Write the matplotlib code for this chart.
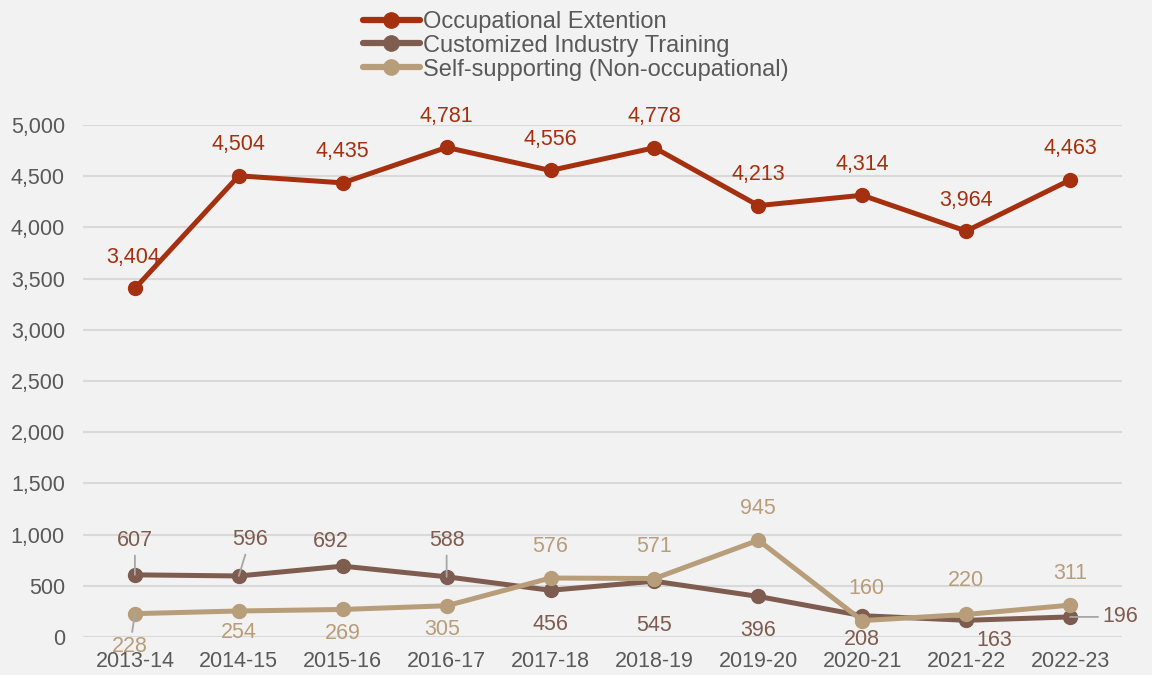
import matplotlib
matplotlib.use("Agg")
import matplotlib.pyplot as plt
from matplotlib.ticker import FuncFormatter

plt.rcParams['font.family'] = ['Liberation Sans', 'DejaVu Sans']

years = ["2013-14", "2014-15", "2015-16", "2016-17", "2017-18",
         "2018-19", "2019-20", "2020-21", "2021-22", "2022-23"]
occupational = [3404, 4504, 4435, 4781, 4556, 4778, 4213, 4314, 3964, 4463]
customized = [607, 596, 692, 588, 456, 545, 396, 208, 163, 196]
self_supporting = [228, 254, 269, 305, 576, 571, 945, 160, 220, 311]

names = ["Occupational Extention", "Customized Industry Training",
         "Self-supporting (Non-occupational)"]
colors = ["#A5300F", "#7E5C50", "#B89D7A"]

# label offsets in pixels (dx, dy) and whether a leader line is drawn
off_occ = [(-2, 31)] + [(0, 31)] * 9
off_cus = [(0, 34), (11, 36), (-12, 25), (0, 36), (0, -34), (0, -44),
           (0, -34), (0, -24), (28, -20), (50, 0)]
lead_cus = [True, True, False, True, False, False, False, False, False, True]
off_self = [(-5, -33), (0, -22), (0, -24), (-4, -24), (0, 32), (0, 32),
            (0, 32), (4, 32), (0, 34), (0, 32)]
lead_self = [True] + [False] * 9

bg = "#F2F2F2"
fig = plt.figure(figsize=(11.52, 6.75), dpi=100, facecolor=bg)
ax = fig.add_axes([0.072, 0.0563, 0.902, 0.7585], facecolor=bg)

x = list(range(len(years)))
series = [occupational, customized, self_supporting]
for vals, c, n in zip(series, colors, names):
    ax.plot(x, vals, color=c, lw=3.6, marker='o', ms=10, label=n,
            solid_capstyle='round', zorder=3)

def label(vals, offs, leads, c):
    for i, v in enumerate(vals):
        dx, dy = offs[i]
        lead = leads[i] if leads else False
        kw = {}
        if lead:
            kw['arrowprops'] = dict(arrowstyle='-', color='#A6A6A6', lw=1.3,
                                    shrinkA=1, shrinkB=0)
        ax.annotate(f"{v:,}", xy=(i, v), xytext=(dx, dy),
                    textcoords='offset pixels', ha='center', va='center',
                    color=c, fontsize=15.5, zorder=4, **kw)

label(occupational, off_occ, None, colors[0])
label(customized, off_cus, lead_cus, colors[1])
label(self_supporting, off_self, lead_self, colors[2])

ax.set_ylim(0, 5000)
ax.set_xlim(-0.5, len(years) - 0.5)
ax.set_yticks(range(0, 5001, 500))
ax.yaxis.set_major_formatter(FuncFormatter(lambda v, p: f"{int(v):,}"))
ax.set_xticks(x)
ax.set_xticklabels(years)
ax.tick_params(axis='both', length=0, labelsize=15.5, labelcolor='#595959')
ax.tick_params(axis='x', pad=10)
ax.tick_params(axis='y', pad=13)
ax.grid(axis='y', color='#D9D9D9', lw=1.5)
ax.set_axisbelow(True)
for s in ax.spines.values():
    s.set_visible(False)

leg = fig.legend(loc='upper center', bbox_to_anchor=(0.5, 1.005), ncol=1,
                 frameon=False, fontsize=17, handlelength=2.4,
                 handletextpad=0.15, labelspacing=0.08, borderaxespad=0.2)
for t in leg.get_texts():
    t.set_color('#595959')
for h in leg.legend_handles:
    h.set_linewidth(4.5)
    h.set_markersize(11)

fig.savefig("out.png", dpi=100, facecolor=bg)
